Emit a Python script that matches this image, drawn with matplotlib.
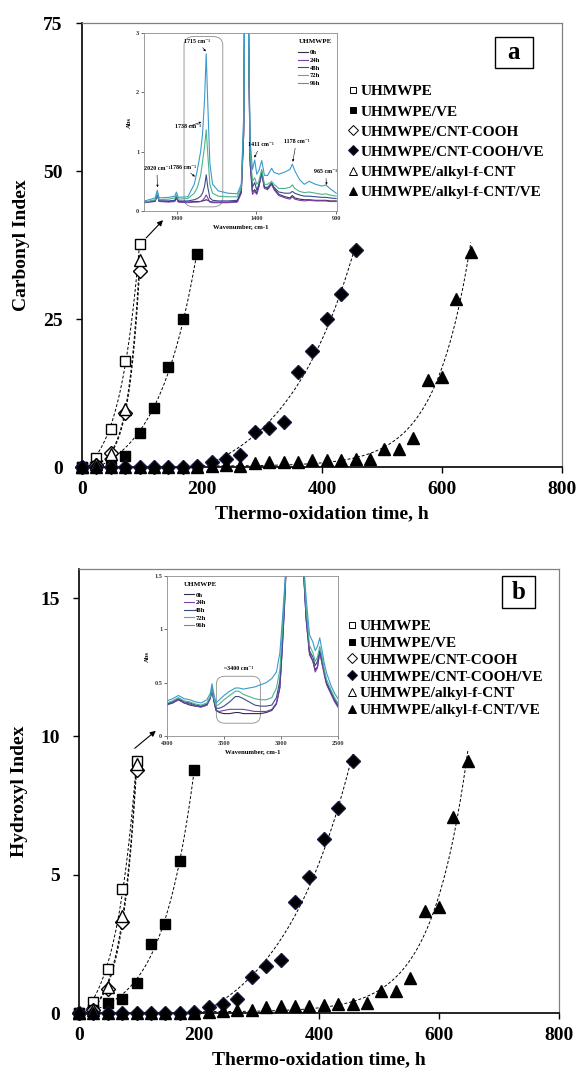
import numpy as np
import matplotlib
matplotlib.use('Agg')
import matplotlib.pyplot as plt
from matplotlib.patches import FancyBboxPatch, Rectangle
from matplotlib.lines import Line2D

plt.rcParams['font.family'] = ['Liberation Serif', 'DejaVu Serif']
plt.rcParams['font.weight'] = 'bold'

# ---------------- main data ----------------
series_names = ['UHMWPE', 'UHMWPE/VE', 'UHMWPE/CNT-COOH', 'UHMWPE/CNT-COOH/VE',
                'UHMWPE/alkyl-f-CNT', 'UHMWPE/alkyl-f-CNT/VE']

t_uh = [0, 24, 48, 72, 96]
t_ve = [0, 24, 48, 72, 96, 120, 144, 168, 192]
t_coohve = [0, 24, 48, 72, 96, 120, 144, 168, 192, 216, 240, 264, 288, 312, 336,
            360, 384, 408, 432, 456]
t_alkve = [0, 24, 48, 72, 96, 120, 144, 168, 192, 216, 240, 264, 288, 312, 336,
           360, 384, 408, 432, 456, 480, 504, 528, 552, 576, 600, 624, 648]

# Carbonyl index (panel a)
ci_uh = [0, 1.5, 6.4, 17.9, 37.6]
ci_ve = [0, 0.2, 0.8, 1.9, 5.7, 9.9, 16.9, 25.0, 36.0]
ci_cooh = [0, 0.3, 2.3, 9.1, 33.1]
ci_coohve = [0, 0, 0, 0, 0, 0, 0, 0, 0.2, 0.9, 1.4, 2.0, 5.9, 6.6, 7.6,
             16.0, 19.6, 25.0, 29.2, 36.6]
ci_alk = [0, 0.5, 2.2, 9.8, 35.0]
ci_alkve = [0, 0, 0, 0, 0, 0, 0, 0, 0, 0.2, 0.3, 0.2, 0.6, 0.8, 0.9,
            0.9, 1.1, 1.1, 1.2, 1.3, 1.3, 3.0, 3.0, 4.9, 14.7, 15.2, 28.3, 36.4]

# Hydroxyl index (panel b)
hi_uh = [0, 0.4, 1.6, 4.5, 9.1]
hi_ve = [0, 0.1, 0.35, 0.5, 1.1, 2.5, 3.2, 5.5, 8.8]
hi_cooh = [0, 0.1, 0.87, 3.3, 8.8]
hi_coohve = [0, 0, 0, 0, 0, 0, 0, 0, 0.05, 0.2, 0.33, 0.5, 1.3, 1.7, 1.9,
             4.0, 4.9, 6.3, 7.4, 9.1]
hi_alk = [0, 0.1, 0.95, 3.5, 9.0]
hi_alkve = [0, 0, 0, 0, 0, 0, 0, 0, 0, 0.05, 0.08, 0.1, 0.1, 0.2, 0.25,
            0.25, 0.25, 0.28, 0.32, 0.33, 0.37, 0.8, 0.8, 1.27, 3.7, 3.84, 7.1, 9.1]

x_ticks = [0, 200, 400, 600, 800]
ci_ticks = [0, 25, 50, 75]
hi_ticks = [0, 5, 10, 15]

# ---------------- inset spectra (panel a: carbonyl region) ----------------
spec_labels = ['0h', '24h', '48h', '72h', '96h']
spec_colors = ['#2F2F4A', '#7B3FA8', '#3C4B8E', '#4DB38A', '#3A9AD0']

wn_a = [2100, 2035, 2022, 2010, 1950, 1912, 1902, 1890, 1830, 1790, 1770, 1750,
        1738, 1725, 1715, 1705, 1692, 1675, 1640, 1580, 1520, 1495, 1480, 1470,
        1458, 1440, 1425, 1411, 1398, 1385, 1367, 1350, 1330, 1305, 1290, 1260,
        1220, 1190, 1175, 1160, 1130, 1100, 1070, 1030, 990, 965, 940, 900]
abs_a_0h = [0.15, 0.17, 0.28, 0.17, 0.16, 0.17, 0.23, 0.16, 0.15, 0.16, 0.16, 0.16,
            0.17, 0.18, 0.19, 0.18, 0.16, 0.15, 0.15, 0.15, 0.16, 0.32, 1.3, 5,
            5, 0.85, 0.32, 0.36, 0.30, 0.42, 0.65, 0.40, 0.38, 0.47, 0.38, 0.28,
            0.24, 0.22, 0.26, 0.22, 0.20, 0.19, 0.19, 0.18, 0.18, 0.18, 0.17, 0.17]
abs_a_24h = [0.14, 0.16, 0.27, 0.16, 0.15, 0.16, 0.22, 0.15, 0.14, 0.15, 0.15, 0.16,
             0.18, 0.22, 0.27, 0.22, 0.15, 0.14, 0.14, 0.14, 0.15, 0.30, 1.3, 5,
             5, 0.8, 0.28, 0.33, 0.28, 0.40, 0.62, 0.38, 0.36, 0.45, 0.36, 0.26,
             0.22, 0.20, 0.24, 0.20, 0.18, 0.17, 0.18, 0.17, 0.17, 0.17, 0.16, 0.16]
abs_a_48h = [0.15, 0.17, 0.28, 0.17, 0.17, 0.18, 0.24, 0.17, 0.17, 0.19, 0.21, 0.25,
             0.30, 0.42, 0.61, 0.40, 0.22, 0.18, 0.17, 0.17, 0.18, 0.35, 1.4, 5,
             5, 0.9, 0.40, 0.48, 0.35, 0.45, 0.67, 0.40, 0.40, 0.47, 0.40, 0.32,
             0.30, 0.30, 0.33, 0.30, 0.27, 0.25, 0.25, 0.24, 0.23, 0.23, 0.22, 0.21]
abs_a_72h = [0.15, 0.19, 0.30, 0.19, 0.20, 0.22, 0.27, 0.20, 0.21, 0.30, 0.40, 0.60,
             0.83, 1.10, 1.37, 0.95, 0.45, 0.30, 0.25, 0.24, 0.24, 0.40, 1.5, 5,
             5, 1.0, 0.50, 0.56, 0.45, 0.50, 0.70, 0.45, 0.45, 0.50, 0.45, 0.38,
             0.38, 0.40, 0.44, 0.38, 0.33, 0.31, 0.32, 0.30, 0.28, 0.29, 0.27, 0.25]
abs_a_96h = [0.17, 0.22, 0.35, 0.22, 0.23, 0.25, 0.32, 0.23, 0.24, 0.45, 0.70, 1.00,
             1.30, 1.90, 2.65, 1.80, 0.80, 0.45, 0.34, 0.30, 0.29, 0.45, 1.6, 5,
             5, 1.2, 0.70, 0.86, 0.62, 0.68, 0.85, 0.60, 0.60, 0.72, 0.65, 0.62,
             0.66, 0.70, 0.79, 0.68, 0.53, 0.45, 0.50, 0.45, 0.42, 0.44, 0.38, 0.30]

# ---------------- inset spectra (panel b: hydroxyl region) ----------------
wn_b = [4000, 3950, 3900, 3850, 3800, 3750, 3700, 3650, 3620, 3605, 3590, 3570,
        3540, 3500, 3450, 3400, 3370, 3330, 3280, 3230, 3180, 3130, 3080, 3040,
        3010, 2990, 2970, 2950, 2900, 2850, 2820, 2800, 2780, 2750, 2720, 2700,
        2680, 2660, 2640, 2620, 2600, 2560, 2530, 2500]
abs_b_0h = [0.30, 0.31, 0.34, 0.31, 0.29, 0.28, 0.275, 0.29, 0.36, 0.46, 0.34, 0.24,
            0.22, 0.21, 0.21, 0.22, 0.22, 0.21, 0.21, 0.21, 0.21, 0.22, 0.24, 0.30,
            0.45, 0.80, 1.2, 1.7, 2.5, 2.5, 2.0, 1.5, 1.1, 0.78, 0.70, 0.62,
            0.65, 0.80, 0.68, 0.59, 0.49, 0.40, 0.34, 0.28]
abs_b_24h = [0.29, 0.31, 0.34, 0.31, 0.30, 0.28, 0.27, 0.29, 0.35, 0.43, 0.33, 0.24,
             0.23, 0.24, 0.25, 0.25, 0.25, 0.25, 0.24, 0.23, 0.23, 0.23, 0.25, 0.31,
             0.46, 0.80, 1.2, 1.7, 2.5, 2.5, 2.0, 1.5, 1.1, 0.76, 0.70, 0.60,
             0.64, 0.78, 0.68, 0.57, 0.48, 0.39, 0.32, 0.27]
abs_b_48h = [0.30, 0.32, 0.35, 0.32, 0.31, 0.29, 0.28, 0.30, 0.36, 0.44, 0.34, 0.26,
             0.26, 0.28, 0.32, 0.37, 0.37, 0.35, 0.32, 0.29, 0.28, 0.28, 0.29, 0.36,
             0.52, 0.85, 1.25, 1.7, 2.5, 2.5, 2.0, 1.5, 1.15, 0.80, 0.74, 0.66,
             0.70, 0.80, 0.72, 0.60, 0.50, 0.41, 0.34, 0.29]
abs_b_72h = [0.31, 0.33, 0.36, 0.33, 0.32, 0.30, 0.29, 0.31, 0.37, 0.45, 0.36, 0.28,
             0.30, 0.34, 0.38, 0.42, 0.42, 0.39, 0.37, 0.35, 0.34, 0.34, 0.36, 0.45,
             0.62, 0.95, 1.3, 1.7, 2.5, 2.5, 2.0, 1.55, 1.2, 0.85, 0.78, 0.70,
             0.74, 0.84, 0.74, 0.62, 0.53, 0.43, 0.36, 0.31]
abs_b_96h = [0.33, 0.35, 0.38, 0.35, 0.34, 0.32, 0.31, 0.34, 0.40, 0.49, 0.40, 0.31,
             0.34, 0.38, 0.42, 0.45, 0.45, 0.44, 0.45, 0.46, 0.48, 0.50, 0.54, 0.60,
             0.78, 1.06, 1.37, 1.7, 2.5, 2.5, 2.0, 1.6, 1.3, 0.95, 0.88, 0.80,
             0.84, 0.92, 0.80, 0.68, 0.59, 0.47, 0.40, 0.35]

# ---------------- styles ----------------
NAVY = '#14183C'
styles = [
    dict(marker='s', mfc='white', mec='black', ms=7, mew=1.0),
    dict(marker='s', mfc='black', mec='black', ms=7, mew=1.0),
    dict(marker='D', mfc='white', mec='black', ms=6.8, mew=1.0),
    dict(marker='D', mfc='black', mec=NAVY, ms=6.8, mew=1.0),
    dict(marker='^', mfc='white', mec='black', ms=8.5, mew=1.0),
    dict(marker='^', mfc='black', mec='black', ms=8.5, mew=1.0),
]
legend_ms = [5.0, 5.0, 4.6, 4.6, 5.6, 5.6]

fig = plt.figure(figsize=(5.79, 10.77), dpi=100)
W, H = 579.0, 1077.0


def trend(ax, t, v):
    """Exponential-plus-offset trend line fitted to the measured points."""
    t = np.asarray(t, float)
    v = np.asarray(v, float)
    first = np.argmax(v > 0)
    sel = slice(max(first - 1, 0), None)
    ts, vs = t[sel], v[sel]
    best = None
    for b in np.linspace(0.002, 0.15, 600):
        X = np.column_stack([np.ones_like(ts), np.exp(b * (ts - ts[-1]))])
        coef, *_ = np.linalg.lstsq(X, vs, rcond=None)
        r = np.sum((X @ coef - vs) ** 2)
        if best is None or r < best[0]:
            best = (r, b, coef)
    _, b, coef = best
    tt = np.linspace(ts[0], ts[-1], 300)
    yy = coef[0] + coef[1] * np.exp(b * (tt - ts[-1]))
    m = yy >= 0
    ax.plot(tt[m], yy[m], color='black', lw=0.7, ls=(0, (3, 2)), zorder=2)


def main_panel(ax, data, yticks, ylim, ylabel, letter, box, txt, leg_anchor, lspace, arrow):
    for (t, v) in data:
        trend(ax, t, v)
    for (t, v), st, name in zip(data, styles, series_names):
        ax.plot(t, v, ls='none', clip_on=False, zorder=3, label=name, **st)
    ax.set_xlim(0, 800)
    ax.set_ylim(*ylim)
    ax.set_xticks(x_ticks)
    ax.set_yticks(yticks)
    ax.tick_params(direction='out', length=4, width=1, labelsize=14)
    ax.tick_params(axis='x', pad=6)
    ax.tick_params(axis='y', pad=10)
    for lab in ax.get_xticklabels() + ax.get_yticklabels():
        lab.set_fontweight('bold')
    for s in ['left', 'bottom']:
        ax.spines[s].set_linewidth(1.2)
        ax.spines[s].set_color('black')
    for s in ['top', 'right']:
        ax.spines[s].set_linewidth(0.9)
        ax.spines[s].set_color('#808080')
    ax.set_xlabel('Thermo-oxidation time, h', fontsize=14, fontweight='bold', labelpad=5)
    ax.set_ylabel(ylabel, fontsize=14, fontweight='bold', labelpad=9)
    handles = [Line2D([], [], ls='none', marker=st['marker'], mfc=st['mfc'],
                      mec=st['mec'], ms=lm, mew=0.7) for st, lm in zip(styles, legend_ms)]
    ax.legend(handles, series_names, loc='upper left', bbox_to_anchor=leg_anchor,
              frameon=False, prop=dict(family='Liberation Serif', weight='bold', size=11),
              handlelength=0.6, handletextpad=0.15, labelspacing=lspace,
              borderaxespad=0, borderpad=0)
    ax.add_patch(Rectangle((box[0], box[1]), box[2], box[3], transform=ax.transAxes,
                           fc='white', ec='black', lw=1.0, zorder=5))
    ax.text(txt[0], txt[1], letter, transform=ax.transAxes, fontsize=18,
            fontweight='bold', ha='center', va='center', zorder=6)
    ax.annotate('', xy=arrow[1], xytext=arrow[0],
                arrowprops=dict(arrowstyle='-|>', color='black', lw=0.8,
                                mutation_scale=8, shrinkA=0, shrinkB=0))


axA = fig.add_axes([82 / W, 1 - 467 / H, 480 / W, 444 / H])
axB = fig.add_axes([79 / W, 1 - 1013 / H, 480 / W, 444 / H])

data_a = [(t_uh, ci_uh), (t_ve, ci_ve), (t_uh, ci_cooh), (t_coohve, ci_coohve),
          (t_uh, ci_alk), (t_alkve, ci_alkve)]
data_b = [(t_uh, hi_uh), (t_ve, hi_ve), (t_uh, hi_cooh), (t_coohve, hi_coohve),
          (t_uh, hi_alk), (t_alkve, hi_alkve)]

main_panel(axA, data_a, ci_ticks, (0, 75), 'Carbonyl Index', 'a',
           (0.860, 0.899, 0.079, 0.070), (0.900, 0.934), (0.556, 0.861), 0.42,
           ((107, 38.7), (135, 41.7)))
main_panel(axB, data_b, hi_ticks, (0, 16.05), 'Hydroxyl Index', 'b',
           (0.881, 0.912, 0.069, 0.072), (0.916, 0.946), (0.56, 0.886), 0.2,
           ((93, 9.57), (128, 10.2)))


def inset(rect, wn, curves, xlim, ylim, xticks, yticks, leg_anchor):
    ax = fig.add_axes(rect)
    for c, col, lab in zip(curves, spec_colors, spec_labels):
        ax.plot(wn, c, color=col, lw=0.8, label=lab)
    ax.set_xlim(*xlim)
    ax.set_ylim(*ylim)
    ax.set_xticks(xticks)
    ax.set_yticks(yticks)
    ax.set_yticklabels([('%g' % y) for y in yticks])
    ax.tick_params(length=2, width=0.5, labelsize=4.5, pad=1.5, colors='#333333')
    for s in ax.spines.values():
        s.set_color('#8C8C8C')
        s.set_linewidth(0.6)
    ax.set_xlabel('Wavenumber, cm-1', fontsize=4.8, fontweight='bold', labelpad=2)
    ax.set_ylabel('Abs', fontsize=4.8, fontweight='bold', labelpad=3)
    lg = ax.legend(loc='upper left', bbox_to_anchor=leg_anchor, frameon=False,
                   title='UHMWPE', prop=dict(family='Liberation Serif', weight='bold', size=4.8),
                   handlelength=1.5, handletextpad=0.2, labelspacing=0.3,
                   borderaxespad=0, borderpad=0)
    lg.get_title().set_fontsize(5)
    lg.get_title().set_fontweight('bold')
    lg._legend_box.align = 'left'
    lg._legend_box.sep = 4
    return ax


insA = inset([144 / W, 1 - 211 / H, 193 / W, 178 / H], wn_a,
             [abs_a_0h, abs_a_24h, abs_a_48h, abs_a_72h, abs_a_96h],
             (2105, 895), (0, 3), [1900, 1400, 900], [0, 1, 2, 3], (0.80, 0.965))
insB = inset([167 / W, 1 - 736 / H, 171 / W, 160 / H], wn_b,
             [abs_b_0h, abs_b_24h, abs_b_48h, abs_b_72h, abs_b_96h],
             (4000, 2500), (0, 1.5), [4000, 3500, 3000, 2500], [0, 0.5, 1, 1.5], (0.10, 0.965))


def ax_frac(ax, wn, a):
    x0, x1 = ax.get_xlim()
    y0, y1 = ax.get_ylim()
    return (x0 - wn) / (x0 - x1), (a - y0) / (y1 - y0)


def rbox(ax, wn0, wn1, a0, a1):
    xa, ya = ax_frac(ax, wn0, a0)
    xb, yb = ax_frac(ax, wn1, a1)
    ax.add_patch(FancyBboxPatch((xa, ya), xb - xa, yb - ya,
                                boxstyle='round,pad=0,rounding_size=0.05',
                                transform=ax.transAxes, fc='none', ec='#8C8C8C', lw=0.6))


rbox(insA, 1854, 1611, 0.07, 2.94)
rbox(insB, 3567, 3181, 0.12, 0.56)

ann_kw = dict(fontsize=4.3, fontweight='bold', ha='center', va='center',
              arrowprops=dict(arrowstyle='-|>', lw=0.4, color='black',
                              mutation_scale=3, shrinkA=1, shrinkB=0))
insA.annotate('1715 cm\u207b\u00b9', xy=(1718, 2.69), xytext=(1770, 2.86), **ann_kw)
insA.annotate('1738 cm\u207b\u00b9', xy=(1745, 1.50), xytext=(1830, 1.42), **ann_kw)
insA.annotate('1786 cm\u207b\u00b9', xy=(1786, 0.58), xytext=(1860, 0.74), **ann_kw)
insA.annotate('2020 cm\u207b\u00b9', xy=(2020, 0.40), xytext=(2025, 0.72), **ann_kw)
insA.annotate('1411 cm\u207b\u00b9', xy=(1413, 0.90), xytext=(1372, 1.12), **ann_kw)
insA.annotate('1178 cm\u207b\u00b9', xy=(1172, 0.83), xytext=(1150, 1.17), **ann_kw)
insA.annotate('965 cm\u207b\u00b9', xy=(960, 0.44), xytext=(968, 0.66), **ann_kw)
insB.text(3371, 0.63, '~3400 cm\u207b\u00b9', fontsize=4.3, fontweight='bold',
          ha='center', va='center')

fig.savefig('out.png', dpi=100)
